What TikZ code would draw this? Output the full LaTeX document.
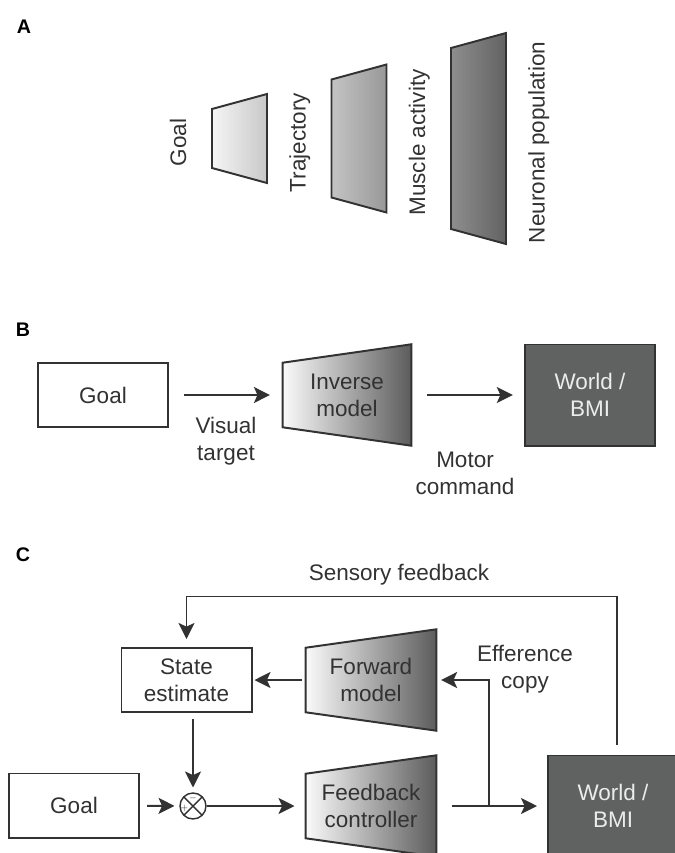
\documentclass[tikz,border=0pt]{standalone}
\usepackage{fontspec}
\setmainfont{Liberation Sans}
\usetikzlibrary{arrows.meta, positioning, backgrounds}
\definecolor{ink}{RGB}{50,50,50}
\definecolor{worldgray}{RGB}{96,97,97}
\definecolor{worldtext}{RGB}{236,236,236}
\definecolor{modelL}{RGB}{250,250,250}
\definecolor{modelR}{RGB}{92,92,92}
\definecolor{stageA}{RGB}{245,245,245}
\definecolor{stageB}{RGB}{200,200,200}
\definecolor{stageC}{RGB}{196,196,196}
\definecolor{stageD}{RGB}{152,152,152}
\definecolor{stageE}{RGB}{142,142,142}
\definecolor{stageF}{RGB}{98,98,98}
\begin{document}
\begin{tikzpicture}[
  x=0.025cm, y=-0.025cm,
  font=\fontsize{16}{19.2}\selectfont, text=ink,
  box/.style={rectangle, draw=ink, line width=1.4pt, fill=white,
    minimum width=3.25cm, minimum height=1.6cm, inner sep=0pt, align=center},
  world/.style={box, fill=worldgray, text=worldtext, minimum height=2.525cm},
  model/.style={rectangle, minimum width=3.2cm, minimum height=1.6cm, inner sep=0pt, align=center},
  flow/.style={-{Stealth[length=0.4cm, width=0.4cm, inset=0.09cm]}, line width=1.4pt, draw=ink},
  note/.style={align=center},
  panel/.style={font=\fontsize{14}{16}\selectfont\bfseries, text=black},
  stage/.style={rotate=90, anchor=base},
  junction/.style={circle, draw=ink, line width=1pt, fill=white, minimum size=0.65cm, inner sep=0pt,
    path picture={\draw[ink, line width=1pt]
      (path picture bounding box.north west) -- (path picture bounding box.south east)
      (path picture bounding box.north east) -- (path picture bounding box.south west);}},
  sign/.style={font=\fontsize{6}{6}\selectfont, inner sep=0pt}
]
\useasboundingbox (0,0) rectangle (675,853);

% Panel A
\node[panel] (labA) at (24,27) {A};
\foreach \i/\h/\lc/\rc in {0/59/stageA/stageB, 1/118/stageC/stageD, 2/181/stageE/stageF}
  \shadedraw[left color=\lc, right color=\rc, draw=ink, line width=1.4pt]
    (212+119.5*\i, 138.5-\h/2) -- (267+119.5*\i, 123.5-\h/2)
    -- (267+119.5*\i, 153.5+\h/2) -- (212+119.5*\i, 138.5+\h/2) -- cycle;
\foreach \i/\txt in {0/Goal, 1/Trajectory, 2/Muscle activity, 3/Neuronal population}
  \node[stage] (stage\i) at (186+119.5*\i, 142.5) {\txt};

% Panel B
\node[panel] (labB) at (23,330) {B};
\node[box] (goalB) at (103,395) {Goal};
\node[model] (inverse) at (347,395) {Inverse\\model};
\node[world] (worldB) at (590,395) {World /\\BMI};
\node[note] (visual) at (226,441) {Visual\\target};
\node[note] (motor) at (465,473) {Motor\\command};

\draw[flow, shorten <=0.37cm, shorten >=0.32cm] (goalB) -- (inverse);
\draw[flow, shorten <=0.4cm, shorten >=0.28cm] (inverse) -- (worldB);

% Panel C
\node[panel] (labC) at (23,555) {C};
\node[box] (state) at (186.5,680) {State\\estimate};
\node[model, minimum width=3.25cm] (forward) at (371,680) {Forward\\model};
\node[box] (goalC) at (74,805.5) {Goal};
\node[junction] (sum) at (193,806) {};
\node[sign] (minus) at ([yshift=0.2cm]sum.center) {$-$};
\node[sign] (plus) at ([xshift=-0.22cm, yshift=-0.05cm]sum.center) {$+$};
\node[model, minimum width=3.25cm] (feedback) at (371,806) {Feedback\\controller};
\node[world] (worldC) at (613,806) {World /\\BMI};
\coordinate (split) at (489,806);
\node[note] (sensory) at (399,575) {Sensory feedback};
\node[note] (efference) at (525,669) {Efference\\copy};

\draw[flow, shorten <=0.18cm, shorten >=0.12cm] (goalC) -- (sum);
\draw[flow, shorten <=0.15cm, shorten >=0.12cm] (state.south -| sum) -- (sum);
\draw[flow, shorten >=0.28cm] (sum) -- (feedback);
\draw[flow, shorten <=0.1cm, shorten >=0.05cm] (forward) -- (state);
\draw[flow, shorten <=0.38cm, shorten >=0.25cm] (feedback) -- (worldC);
\draw[flow, shorten >=0.12cm] (split) |- (forward.east);
\draw[flow, shorten <=0.25cm, shorten >=0.2cm] ([xshift=0.1cm]worldC.north) -- ++(0,-158) -| (state.north);

% trapezoid bodies behind the model labels
\begin{scope}[on background layer]
\foreach \m in {inverse, forward, feedback}
  \shadedraw[left color=modelL, right color=modelR, draw=ink, line width=1.4pt]
    (\m.south west) -- (\m.north west) -- ([yshift=0.46cm]\m.north east)
    -- ([yshift=-0.46cm]\m.south east) -- cycle;
\end{scope}
\end{tikzpicture}
\end{document}
